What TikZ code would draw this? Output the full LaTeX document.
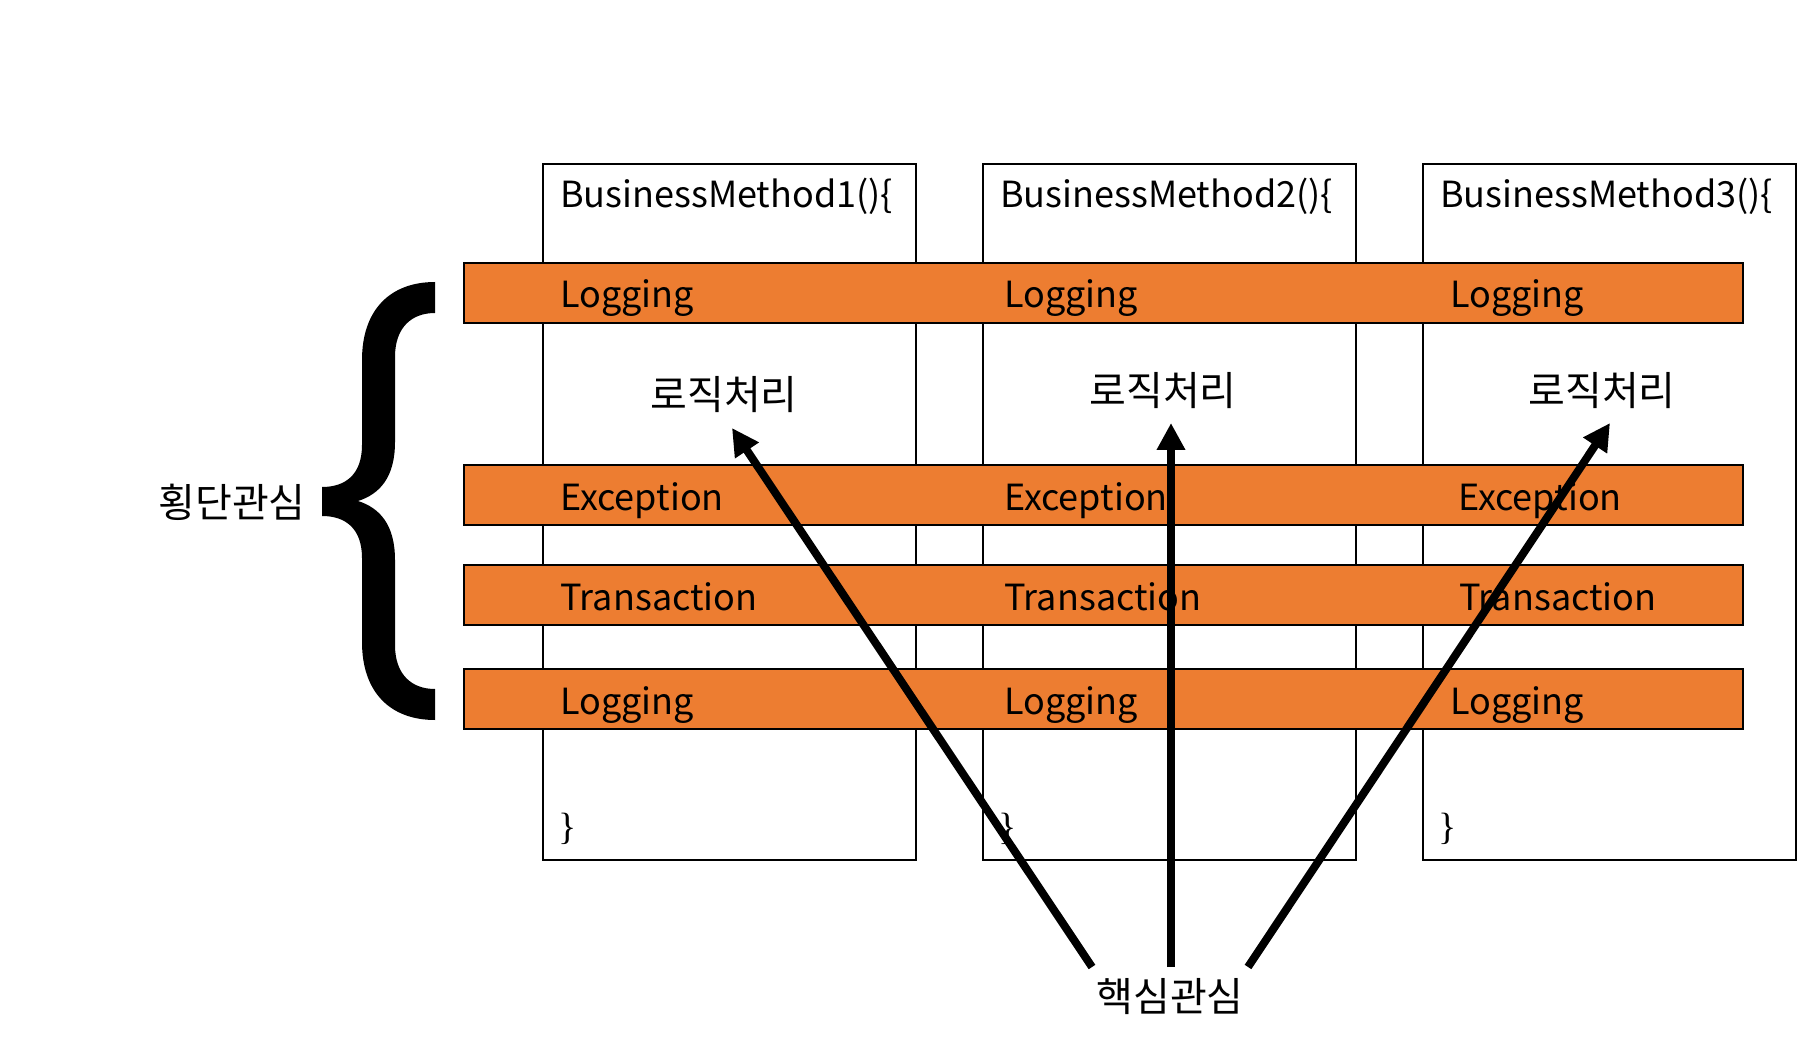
\documentclass[tikz,border=0pt]{standalone}
\usepackage{fontspec}
\setmainfont{Noto Sans CJK KR}
\newfontfamily\closefont{Liberation Serif}
\usetikzlibrary{arrows.meta}
\definecolor{barorange}{HTML}{ED7D31}
\tikzset{
  bizbox/.style={draw,fill=white,line width=2pt},
  aspectbar/.style={draw,fill=barorange,line width=2pt},
  codetext/.style={anchor=base west,inner sep=0pt,font=\fontsize{36}{36}\selectfont},
  kortext/.style={inner sep=0pt,font=\fontsize{40}{40}\selectfont},
  corearrow/.style={line width=8pt,-{Triangle[length=27pt,width=27pt]}}
}
\begin{document}
\begin{tikzpicture}[x=1pt,y=-1pt]
\useasboundingbox (0,0) rectangle (1797,1048);
\foreach \x/\n in {543/1,983/2,1423/3}{
  \draw[bizbox] (\x,164) rectangle ++(373,696);
  \node[codetext] (method\n) at (\x+17,208) {BusinessMethod\n()\{};
  \node[codetext,font=\closefont\fontsize{38}{38}\selectfont] (close\n) at (\x+15,839) {\}};
}
\foreach \y/\t/\k/\z in {263/Logging/loga/1450,465/Exception/exc/1458,565/Transaction/trans/1459,669/Logging/logb/1450}{
  \draw[aspectbar] (464,\y) rectangle (1743,\y+60);
  \node[codetext] (\k1) at (560,\y+45) {\t};
  \node[codetext] (\k2) at (1004,\y+45) {\t};
  \node[codetext] (\k3) at (\z,\y+45) {\t};
}
\foreach \x/\y/\n in {724/395/1,1163/391/2,1602/391/3}
  \node[kortext] (logic\n) at (\x,\y) {로직처리};
\node[kortext] (cross) at (232,502) {횡단관심};
\node[kortext] (core) at (1170,997) {핵심관심};
\fill (435,282) .. controls (390,282) and (362,310) .. (362,360) -- (362,445)
  .. controls (362,475) and (345,487) .. (322,487) -- (322,516)
  .. controls (345,516) and (362,528) .. (362,558) -- (362,642)
  .. controls (362,692) and (390,720) .. (435,720) -- (435,689)
  .. controls (412,689) and (395,675) .. (395,645) -- (395,560)
  .. controls (395,525) and (380,508) .. (358,501)
  .. controls (380,494) and (395,477) .. (395,442) -- (395,357)
  .. controls (395,327) and (412,313) .. (435,313) -- cycle;
\coordinate (from1) at (1092,967);
\coordinate (from2) at (1171,967);
\coordinate (from3) at (1248,967);
\coordinate (to1) at (732,428);
\coordinate (to2) at (1171,423);
\coordinate (to3) at (1610,423);
\foreach \n in {1,2,3}
  \draw[corearrow] (from\n) -- (to\n);
\end{tikzpicture}
\end{document}
